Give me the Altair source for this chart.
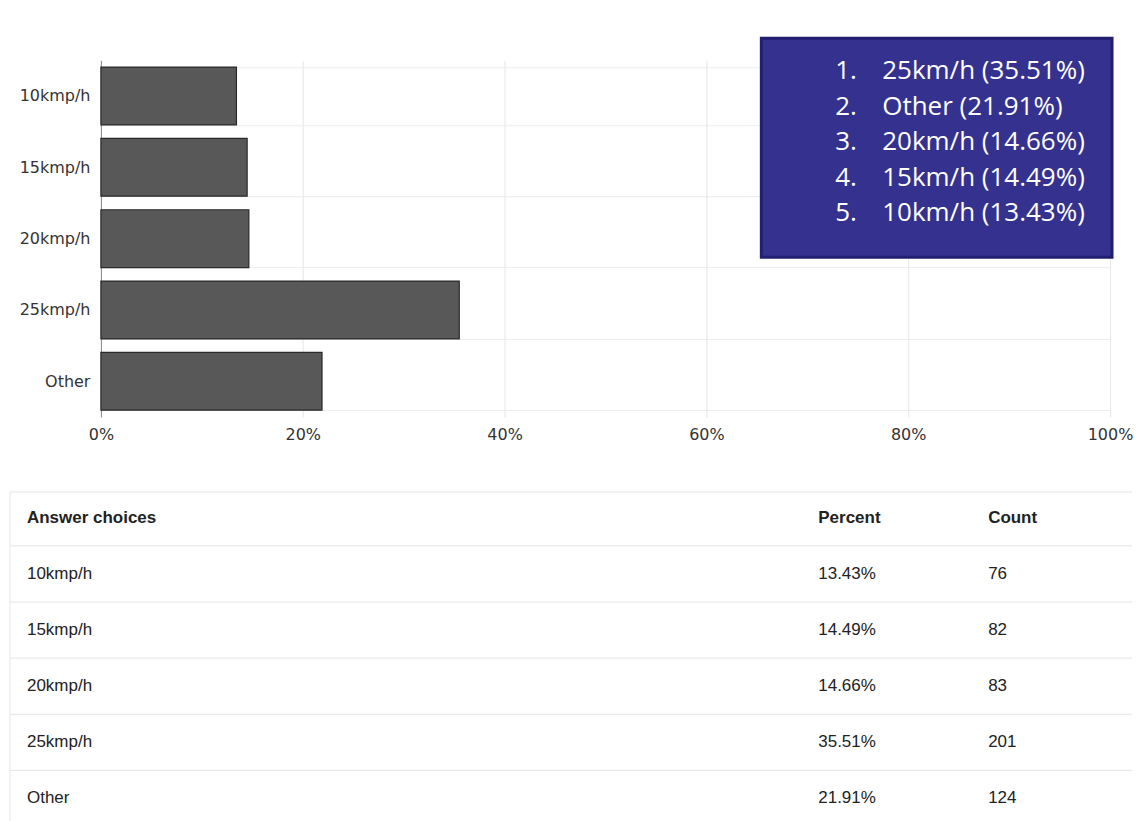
import altair as alt
import pandas as pd

# ---- data ----
choices = ["10kmp/h", "15kmp/h", "20kmp/h", "25kmp/h", "Other"]
percents = [13.43, 14.49, 14.66, 35.51, 21.91]
counts = [76, 82, 83, 201, 124]

rank_nums = ["1.", "2.", "3.", "4.", "5."]
rank_labels = ["25km/h (35.51%)", "Other (21.91%)", "20km/h (14.66%)",
               "15km/h (14.49%)", "10km/h (13.43%)"]

x_ticks = [0, 20, 40, 60, 80, 100]
table_headers = ["Answer choices", "Percent", "Count"]

W = 1010
H = 357

bars_df = pd.DataFrame({"choice": choices, "pct": percents})
rank_df = pd.DataFrame({"rank": list(range(1, 6)), "num": rank_nums, "label": rank_labels})

AXIS_FONT = "DejaVu Sans"

bars = alt.Chart(bars_df).mark_bar(
    color="#585858", stroke="#2a2a2a", strokeWidth=1.2
).encode(
    x=alt.X("pct:Q", scale=alt.Scale(domain=[0, 100], nice=False),
            axis=alt.Axis(values=x_ticks, labelExpr="datum.value + '%'", title=None,
                          domain=False, ticks=False, tickSize=0, labelPadding=10,
                          labelFlush=False,
                          grid=True, gridColor="#e6e6e6", labelFont=AXIS_FONT,
                          labelFontSize=16, labelColor="#333333")),
    y=alt.Y("choice:N", sort=choices, scale=alt.Scale(paddingInner=0.19),
            axis=alt.Axis(title=None, ticks=False, tickSize=0, labelPadding=11,
                          domain=True, domainColor="#8a8a8a", grid=True,
                          gridColor="#ececec", tickBand="extent",
                          labelFont=AXIS_FONT, labelFontSize=16, labelColor="#333333")),
)

box_df = pd.DataFrame({"k": [0]})
box = alt.Chart(box_df).mark_rect(
    fill="#35318f", stroke="#221f70", strokeWidth=3
).encode(
    x=alt.value(661), x2=alt.value(1012),
    y=alt.value(-22), y2=alt.value(197),
)

rank_y = alt.Y("rank:O", axis=None, scale=alt.Scale(type="point", padding=0, range=[11, 153]))

box_nums = alt.Chart(rank_df).mark_text(
    align="left", baseline="middle", font="Open Sans", fontSize=26, color="white"
).encode(x=alt.value(735), y=rank_y, text="num:N")

box_labels = alt.Chart(rank_df).mark_text(
    align="left", baseline="middle", font="Open Sans", fontSize=26, color="white"
).encode(x=alt.value(782), y=rank_y, text="label:N")

top = alt.layer(bars, box, box_nums, box_labels).resolve_scale(y="independent").properties(
    width=W, height=H
)

# ---- table ----
body_df = pd.DataFrame({
    "row": list(range(1, 6)),
    "choice": choices,
    "percent": [f"{p:.2f}%" for p in percents],
    "count": [str(n) for n in counts],
})
head_df = pd.DataFrame({"row": [0], "choice": [table_headers[0]],
                        "percent": [table_headers[1]], "count": [table_headers[2]]})

ty_scale = alt.Scale(domain=[-0.46, 5.43], reverse=True, nice=False, zero=False)
col_x = {"choice": -74, "percent": 718, "count": 888}


def text_layer(df, col, bold):
    kw = dict(align="left", baseline="middle", font="Liberation Sans", fontSize=17,
              color="#222222")
    if bold:
        kw["fontWeight"] = "bold"
    return alt.Chart(df).mark_text(**kw).encode(
        x=alt.value(col_x[col]),
        y=alt.Y("row:Q", axis=None, scale=ty_scale),
        text=f"{col}:N",
    )


tbl_layers = [text_layer(head_df, c, True) for c in ["choice", "percent", "count"]]
tbl_layers += [text_layer(body_df, c, False) for c in ["choice", "percent", "count"]]

sep_df = pd.DataFrame({"pos": [-0.46, 0.5, 1.5, 2.5, 3.5, 4.5]})
seps = alt.Chart(sep_df).mark_rule(color="#e4e4e4", strokeWidth=1).encode(
    y=alt.Y("pos:Q", axis=None, scale=ty_scale),
    x=alt.value(-91), x2=alt.value(W + 22),
)

edge_df = pd.DataFrame({"a": [-0.46], "b": [5.43]})
edge = alt.Chart(edge_df).mark_rule(color="#e4e4e4", strokeWidth=1).encode(
    y=alt.Y("a:Q", axis=None, scale=ty_scale), y2="b:Q", x=alt.value(-91)
)

table = alt.layer(seps, edge, *tbl_layers).properties(width=W, height=331)

chart = alt.vconcat(top, table, spacing=48).properties(
    padding={"top": 28, "left": 1, "right": 0, "bottom": 0}
).configure_view(stroke=None)

chart.save("out.html", embed_options={"renderer": "svg", "actions": False})
